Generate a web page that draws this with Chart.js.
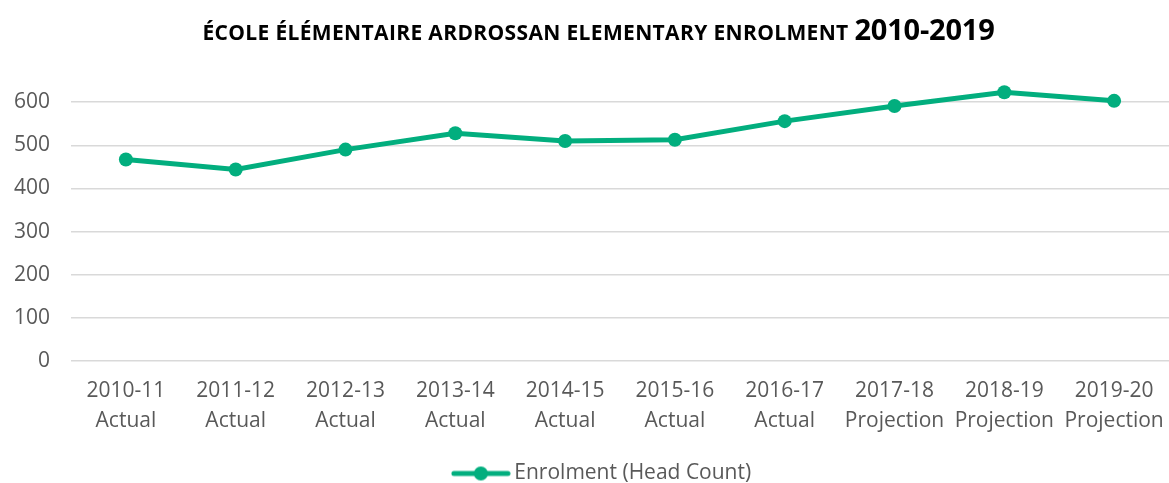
<!DOCTYPE html>
<html>
<head>
<meta charset="utf-8">
<script src="https://cdn.jsdelivr.net/npm/chart.js@4"></script>
<style>
  html, body { margin: 0; padding: 0; background: #fff; }
  #wrap { position: relative; width: 1169px; height: 483px; }
  #title { position: absolute; left: 14px; top: 11px; width: 1169px; text-align: center;
    font-family: "Open Sans", "Liberation Sans", sans-serif; font-weight: 700; color: #000;
    font-size: 21px; line-height: 36px; letter-spacing: 0.35px; white-space: nowrap; }
  #title .yr { font-size: 29px; letter-spacing: -0.2px; }
  canvas { position: absolute; left: 0; top: 0; }
</style>
</head>
<body>
<div id="wrap">
  <canvas id="c" width="1169" height="483"></canvas>
  <div id="title">ÉCOLE ÉLÉMENTAIRE ARDROSSAN ELEMENTARY ENROLMENT <span class="yr">2010-2019</span></div>
</div>
<script>
const years = ['2010-11','2011-12','2012-13','2013-14','2014-15','2015-16','2016-17','2017-18','2018-19','2019-20'];
const status = ['Actual','Actual','Actual','Actual','Actual','Actual','Actual','Projection','Projection','Projection'];
const enrolment = [467, 444, 490, 528, 510, 513, 556, 591, 623, 603];
const seriesName = 'Enrolment (Head Count)';
const yTicks = [0, 100, 200, 300, 400, 500, 600];

const GREEN = '#02AE7E';
const TEXT = '#595959';
const FONT = '"Open Sans", "Liberation Sans", sans-serif';

// legend marker: line with circle
const marker = document.createElement('canvas');
marker.width = 60; marker.height = 16;
(function(){
  const g = marker.getContext('2d');
  g.strokeStyle = GREEN; g.lineWidth = 5; g.lineCap = 'round';
  g.beginPath(); g.moveTo(3, 8); g.lineTo(57, 8); g.stroke();
  g.fillStyle = GREEN; g.beginPath(); g.arc(30, 8, 7, 0, Math.PI*2); g.fill();
})();

// shift the legend slightly right, as in the reference layout
const legendShift = {
  id: 'legendShift',
  afterLayout(chart) {
    const lg = chart.legend;
    if (lg && !lg._shifted) {
      const orig = lg.draw.bind(lg);
      lg.draw = function(area) {
        const ctx = chart.ctx;
        ctx.save(); ctx.translate(19, 0); orig(area); ctx.restore();
      };
      lg._shifted = true;
    }
  }
};

new Chart(document.getElementById('c'), {
  type: 'line',
  data: {
    labels: years.map((y, i) => [y, status[i]]),
    datasets: [{
      label: seriesName,
      data: enrolment,
      borderColor: GREEN,
      backgroundColor: GREEN,
      borderWidth: 5,
      pointRadius: 7,
      pointHoverRadius: 7,
      pointBorderWidth: 0,
      pointBackgroundColor: GREEN,
      tension: 0,
      clip: false
    }]
  },
  plugins: [legendShift],
  options: {
    responsive: false,
    animation: false,
    layout: { autoPadding: false, padding: { top: 59, right: -2, left: 0, bottom: -11 } },
    plugins: {
      title: { display: false },
      tooltip: { enabled: false },
      legend: {
        position: 'bottom',
        labels: {
          usePointStyle: true,
          pointStyle: marker,
          pointStyleWidth: 46,
          boxHeight: 16,
          color: TEXT,
          font: { family: FONT, size: 21, lineHeight: 1.0 },
          padding: 0
        }
      }
    },
    scales: {
      x: {
        offset: true,
        grid: { display: false, drawTicks: false },
        border: { display: false },
        ticks: { color: TEXT, font: { family: FONT, size: 21, lineHeight: 1.43 }, padding: 15, maxRotation: 0, autoSkip: false },
        afterFit(s) { s.height = 102; s.paddingLeft = 0; s.paddingRight = 0; }
      },
      y: {
        min: 0, max: 700,
        afterBuildTicks(s) { s.ticks = yTicks.map(v => ({ value: v })); },
        grid: { color: '#d9d9d9', lineWidth: 1.5, drawTicks: false },
        border: { display: false },
        ticks: { color: TEXT, font: { family: FONT, size: 21 }, padding: 21 },
        afterFit(s) { s.width = 71; s.paddingTop = 0; s.paddingBottom = 0; }
      }
    }
  }
});
</script>
</body>
</html>
